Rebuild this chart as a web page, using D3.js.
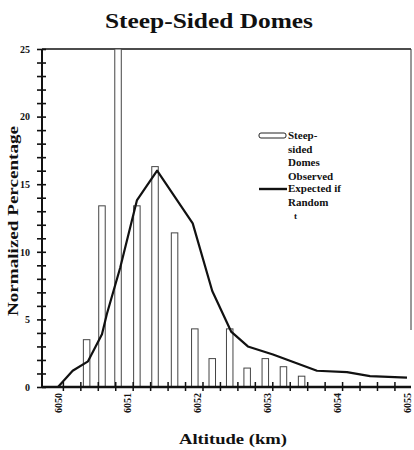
<!DOCTYPE html>
<html>
<head>
<meta charset="utf-8">
<script src="https://cdn.jsdelivr.net/npm/d3@7"></script>
<style>
  body { margin: 0; background: #fff; }
  text { font-family: "Liberation Serif", "DejaVu Serif", serif; font-weight: bold; fill: #111; }
</style>
</head>
<body>
<div id="chart"></div>
<script>
// observed domes, altitude (km) vs normalized percentage
var barAltitudes = [6050.41, 6050.63, 6050.86, 6051.13, 6051.39, 6051.67, 6051.96,
                    6052.21, 6052.46, 6052.71, 6052.97, 6053.23, 6053.49];
var barValues    = [3.5, 13.4, 25, 13.4, 16.3, 11.4, 4.3, 2.1, 4.3, 1.4, 2.1, 1.5, 0.8];

// expected if random
var lineAltitudes = [6050, 6050.21, 6050.43, 6050.63, 6050.70, 6050.89, 6051.13, 6051.42,
                     6051.93, 6052.21, 6052.48, 6052.72, 6053.08, 6053.71, 6054.14, 6054.47, 6055];
var lineValues    = [0, 1.2, 1.9, 3.9, 5.4, 8.8, 13.8, 16.0, 12.1, 7.1, 4.1, 3.0, 2.4, 1.2, 1.1, 0.8, 0.7];

var xTickLabels = [6050, 6051, 6052, 6053, 6054, 6055];
var yTickLabels = [0, 5, 10, 15, 20, 25];

var width = 414, height = 450;
var plotLeft = 42, plotRight = 411, plotTop = 49, plotBottom = 387;

var svg = d3.select("#chart").append("svg")
    .attr("width", width)
    .attr("height", height);

var x = d3.scaleLinear().domain([6050, 6055]).range([58, 407]);
var y = d3.scaleLinear().domain([0, 25]).range([plotBottom, plotTop]);

// title
svg.append("text")
    .attr("x", 209).attr("y", 28)
    .attr("text-anchor", "middle")
    .attr("font-size", 21)
    .attr("textLength", 208)
    .attr("lengthAdjust", "spacingAndGlyphs")
    .text("Steep-Sided Domes");

// frame top + right
svg.append("line").attr("x1", plotLeft).attr("x2", plotRight).attr("y1", plotTop).attr("y2", plotTop)
    .attr("stroke", "#111").attr("stroke-width", 1.6);
svg.append("line").attr("x1", plotRight).attr("x2", plotRight).attr("y1", plotTop).attr("y2", 330)
    .attr("stroke", "#333").attr("stroke-width", 1);

// bars
var barW = 6.5;
svg.selectAll("rect.bar")
    .data(barValues)
    .enter()
    .append("rect")
    .attr("class", "bar")
    .attr("x", function(d, i) { return x(barAltitudes[i]) - barW / 2; })
    .attr("y", function(d) { return y(d); })
    .attr("width", barW)
    .attr("height", function(d) { return y(0) - y(d); })
    .attr("fill", "#fff")
    .attr("stroke", "#444")
    .attr("stroke-width", 1);

// expected line
var line = d3.line()
    .x(function(d, i) { return x(lineAltitudes[i]); })
    .y(function(d) { return y(d); });

svg.append("path")
    .datum(lineValues)
    .attr("d", line)
    .attr("fill", "none")
    .attr("stroke", "#111")
    .attr("stroke-width", 2.2)
    .attr("stroke-linejoin", "round");

// y axis, a tick at every unit
var yAxis = d3.axisLeft(y)
    .tickValues(d3.range(0, 26, 1))
    .tickSize(5)
    .tickFormat(function(d) { return yTickLabels.indexOf(d) >= 0 ? d : ""; });
var gy = svg.append("g").attr("transform", "translate(" + plotLeft + ",0)").call(yAxis);
gy.select(".domain").remove();
gy.selectAll(".tick line").attr("x1", -5).attr("x2", 4).attr("stroke", "#111").attr("stroke-width", 1.6);
gy.selectAll(".tick text").attr("x", -12).attr("font-size", 10)
    .attr("font-family", "Liberation Serif").attr("font-weight", "bold").attr("fill", "#111");
svg.append("line").attr("x1", plotLeft).attr("x2", plotLeft).attr("y1", plotTop).attr("y2", plotBottom)
    .attr("stroke", "#111").attr("stroke-width", 2);

// x axis: minor ticks between labels
var xAxis = d3.axisBottom(x)
    .tickValues(d3.range(0, 20).map(function(k) { return 6050.07 + k * 0.25; }))
    .tickSize(4)
    .tickFormat("");
var gx = svg.append("g").attr("transform", "translate(0," + plotBottom + ")").call(xAxis);
gx.select(".domain").remove();
gx.selectAll(".tick line").attr("y1", -5).attr("y2", 4).attr("stroke", "#111").attr("stroke-width", 1.5);
svg.append("line").attr("x1", plotLeft).attr("x2", plotRight).attr("y1", plotBottom).attr("y2", plotBottom)
    .attr("stroke", "#111").attr("stroke-width", 2.4);

svg.selectAll("text.xlab")
    .data(xTickLabels)
    .enter()
    .append("text")
    .attr("class", "xlab")
    .attr("transform", function(d) { return "translate(" + (x(d) + 3.5) + ",393) rotate(-90)"; })
    .attr("text-anchor", "end")
    .attr("font-size", 10)
    .text(function(d) { return d; });

// axis titles
svg.append("text")
    .attr("transform", "translate(18,221) rotate(-90)")
    .attr("text-anchor", "middle")
    .attr("font-size", 15)
    .attr("textLength", 190)
    .attr("lengthAdjust", "spacingAndGlyphs")
    .text("Normalized Percentage");

svg.append("text")
    .attr("x", 233).attr("y", 444)
    .attr("text-anchor", "middle")
    .attr("font-size", 14)
    .attr("textLength", 108)
    .attr("lengthAdjust", "spacingAndGlyphs")
    .text("Altitude (km)");

// legend
var lg = svg.append("g");
lg.append("rect").attr("x", 259).attr("y", 133).attr("width", 27).attr("height", 5)
    .attr("rx", 2).attr("fill", "#fff").attr("stroke", "#222").attr("stroke-width", 1);
["Steep-", "sided", "Domes", "Observed"].forEach(function(t, i) {
    lg.append("text").attr("x", 288).attr("y", 139 + i * 13.6).attr("font-size", 11).text(t);
});
lg.append("line").attr("x1", 259).attr("x2", 287).attr("y1", 189).attr("y2", 189)
    .attr("stroke", "#111").attr("stroke-width", 2.4);
["Expected if", "Random"].forEach(function(t, i) {
    lg.append("text").attr("x", 288).attr("y", 192 + i * 13.6).attr("font-size", 11).text(t);
});
lg.append("text").attr("x", 294).attr("y", 219).attr("font-size", 9).text("t");
</script>
</body>
</html>
